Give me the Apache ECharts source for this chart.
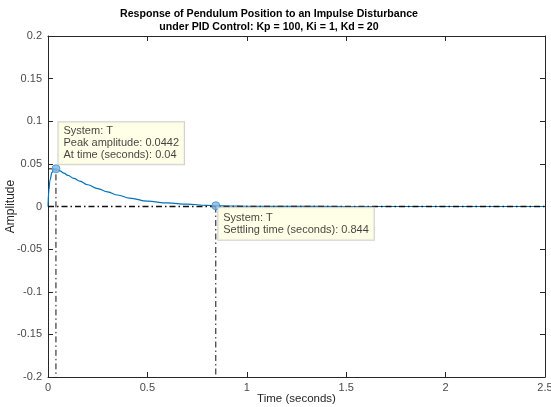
<!DOCTYPE html>
<html>
<head>
<meta charset="utf-8">
<script src="https://cdn.jsdelivr.net/npm/echarts@6/dist/echarts.min.js"></script>
<style>
  html, body { margin: 0; padding: 0; background: #fff; }
  #chart { width: 551px; height: 407px; }
</style>
</head>
<body>
<div id="chart"></div>
<script>
// Impulse response of the closed loop (pendulum angle), sampled along time
const timeSec = [0, 0.005, 0.01, 0.02, 0.03, 0.04, 0.06, 0.08, 0.1, 0.13, 0.16, 0.2, 0.25, 0.3, 0.35, 0.41,
                 0.5, 0.6, 0.7, 0.8, 0.844, 0.9, 1.0, 1.2, 1.5, 2.0, 2.5];
const amplitude = [0, 0.020, 0.031, 0.040, 0.0435, 0.0442, 0.0418, 0.0392, 0.0365, 0.0330, 0.0298, 0.0255,
                   0.0210, 0.0172, 0.0135, 0.0098, 0.0062, 0.0042, 0.0027, 0.0014, 0.0009, 0.0006, 0.0003,
                   0.0001, 0, 0, 0];

// Response characteristics
const systemName = 'T';
const peakTime = 0.04;
const peakAmplitude = 0.0442;
const settlingTime = 0.844;
const settlingAmplitude = 0.0009;
const steadyState = 0;

// Axis ranges
const xRange = [0, 2.5];
const xStep = 0.5;
const yRange = [-0.2, 0.2];
const yStep = 0.05;

const axisColor = '#262626';
const labelColor = '#4a4a4a';
const fontFamily = '"Liberation Sans", Arial, Helvetica, sans-serif';
const dashDot = [6, 3, 1.5, 3];

const curve = timeSec.map((t, i) => [t, amplitude[i]]);

function frameAxis(extra) {
  return Object.assign({
    type: 'value',
    axisLine: { show: true, onZero: false, lineStyle: { color: axisColor, width: 1 } },
    axisTick: { show: true, inside: true, length: 5, lineStyle: { color: axisColor } },
    splitLine: { show: false },
    axisLabel: { show: false }
  }, extra);
}

const tipBox = {
  show: true,
  backgroundColor: '#ffffe1',
  borderColor: '#c4c4c4',
  borderWidth: 1,
  color: '#111',
  fontSize: 11,
  lineHeight: 12,
  fontFamily: fontFamily,
  align: 'left',
  verticalAlign: 'top'
};

const chart = echarts.init(document.getElementById('chart'), null, { renderer: 'canvas' });

chart.setOption({
  animation: false,
  backgroundColor: '#ffffff',
  title: {
    text: 'Response of Pendulum Position to an Impulse Disturbance\nunder PID Control: Kp = 100, Ki = 1, Kd = 20',
    left: 264,
    top: 3,
    textAlign: 'center',
    textStyle: { fontSize: 10.6, fontWeight: 'bold', color: '#000', fontFamily: fontFamily, lineHeight: 13 }
  },
  grid: { left: 48, right: 6, top: 36, bottom: 30, containLabel: false, outerBoundsMode: 'none' },
  xAxis: [
    frameAxis({
      min: xRange[0], max: xRange[1], interval: xStep, position: 'bottom',
      axisLabel: { show: true, color: labelColor, fontSize: 11, fontFamily: fontFamily, margin: 5 },
      name: 'Time (seconds)', nameLocation: 'middle', nameGap: 16, nameMoveOverlap: false,
      nameTextStyle: { color: axisColor, fontSize: 11.5, fontFamily: fontFamily }
    }),
    frameAxis({ min: xRange[0], max: xRange[1], interval: xStep, position: 'top' })
  ],
  yAxis: [
    frameAxis({
      min: yRange[0], max: yRange[1], interval: yStep, position: 'left',
      axisLabel: { show: true, color: labelColor, fontSize: 11, fontFamily: fontFamily, margin: 6 },
      name: 'Amplitude', nameLocation: 'middle', nameGap: 31, nameMoveOverlap: false,
      nameTextStyle: { color: axisColor, fontSize: 12, fontFamily: fontFamily }
    }),
    frameAxis({ min: yRange[0], max: yRange[1], interval: yStep, position: 'right' })
  ],
  series: [
    {
      name: 'response',
      type: 'line',
      data: curve,
      showSymbol: false,
      smooth: 0.4,
      smoothMonotone: 'x',
      lineStyle: { color: '#0072bd', width: 1.2 },
      z: 2
    },
    {
      name: 'steady state',
      type: 'line',
      data: [[xRange[0], steadyState], [xRange[1], steadyState]],
      showSymbol: false,
      lineStyle: { color: '#111', width: 1.5, type: dashDot },
      z: 3
    },
    {
      name: 'peak guides',
      type: 'line',
      data: [[xRange[0], peakAmplitude], [peakTime, peakAmplitude], [peakTime, yRange[0]]],
      showSymbol: false,
      lineStyle: { color: '#111', width: 1, type: dashDot },
      z: 3
    },
    {
      name: 'settling guide',
      type: 'line',
      data: [[settlingTime, steadyState], [settlingTime, yRange[0]]],
      showSymbol: false,
      lineStyle: { color: '#111', width: 1, type: dashDot },
      z: 3
    },
    {
      name: 'data tips',
      type: 'scatter',
      symbol: 'circle',
      symbolSize: 8,
      itemStyle: { color: '#7fb6e2', borderColor: '#3d8fcf', borderWidth: 1 },
      z: 5,
      data: [
        {
          value: [peakTime, peakAmplitude],
          label: Object.assign({}, tipBox, {
            position: [7, -42],
            padding: [3, 5, 3, 5],
            formatter: 'System: ' + systemName + '\nPeak amplitude: ' + peakAmplitude + '\nAt time (seconds): ' + peakTime
          })
        },
        {
          value: [settlingTime, settlingAmplitude],
          label: Object.assign({}, tipBox, {
            position: [7, 6.5],
            padding: [4, 5, 4, 5],
            formatter: 'System: ' + systemName + '\nSettling time (seconds): ' + settlingTime
          })
        }
      ]
    }
  ]
});
</script>
</body>
</html>
